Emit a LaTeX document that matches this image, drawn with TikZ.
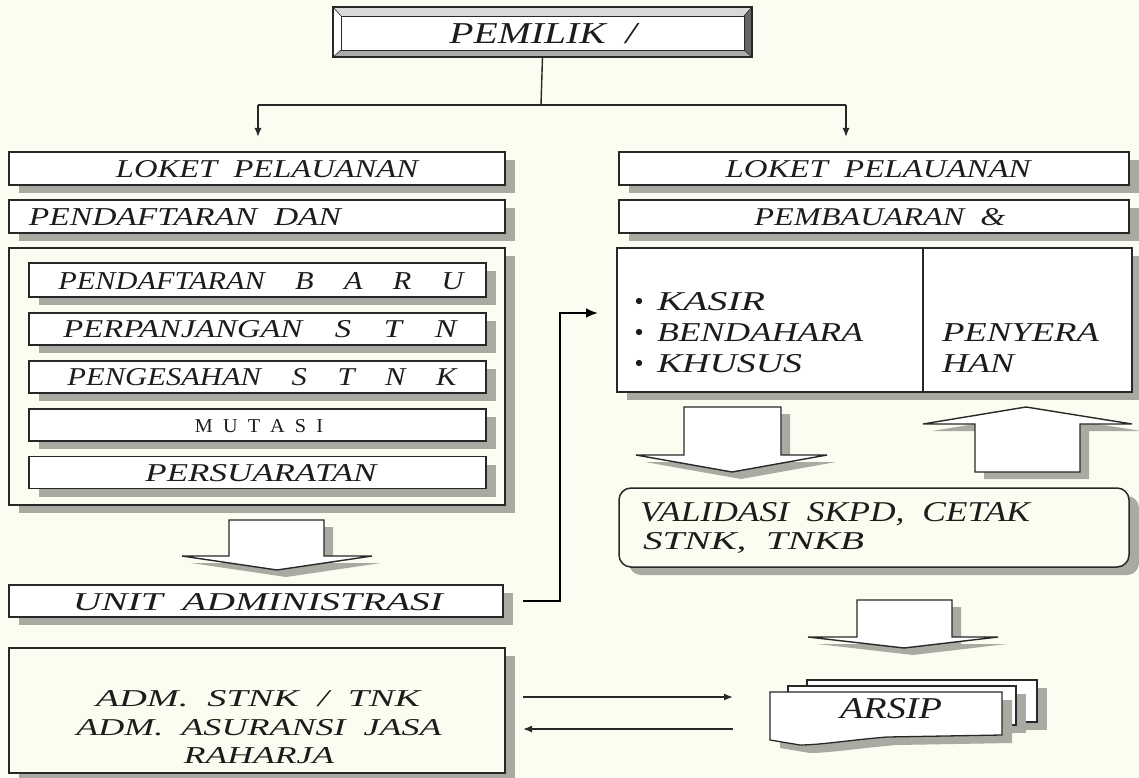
\documentclass[tikz,border=0pt]{standalone}
\usepackage{fontspec}
\setmainfont{Liberation Serif}
\usepackage{graphicx}
\usetikzlibrary{shadows,calc,arrows.meta}
\definecolor{bg}{RGB}{252,252,240}
\definecolor{shcol}{RGB}{170,170,162}
\definecolor{ink}{RGB}{28,28,28}
\definecolor{edge}{RGB}{40,40,40}
\newcommand{\fit}[3]{\resizebox{#1pt}{#2pt}{\itshape #3}}
\newcommand{\fitu}[3]{\resizebox{#1pt}{#2pt}{#3}}
\begin{document}
\begin{tikzpicture}[x=1pt,y=-1pt,
  every node/.style={inner sep=0pt, outer sep=0pt},
  box/.style={draw=edge, line width=1.5pt, fill=white,
    general shadow={fill=shcol, shadow xshift=10pt, shadow yshift=-8pt}},
  barrow/.style={draw=edge, line width=1.4pt, fill=white, line join=miter,
    general shadow={fill=shcol, shadow xshift=9pt, shadow yshift=-7pt}},
  sheet/.style={draw=edge, line width=1.3pt, fill=white,
    general shadow={fill=shcol, shadow xshift=10pt, shadow yshift=-8pt}},
  txt/.style={text=ink, text depth=0pt},
  conn/.style={draw=edge, line width=1.4pt, -{Latex[length=9pt,width=7pt]}},
  plain/.style={draw=edge, line width=1.4pt}]

\fill[bg] (0,0) rectangle (1139,778);
\useasboundingbox (0,0) rectangle (1139,778);

% ---------- PEMILIK box (bevelled frame) ----------
\node[draw=edge, line width=1.2pt, fill=gray!45, minimum width=419pt, minimum height=50pt] (pem) at (542.5,32) {};
\fill[gray!30] (333,7) -- (752,7) -- (744,16) -- (341,16) -- cycle;
\fill[white] (333,7) -- (341,16) -- (341,50) -- (333,57) -- cycle;
\fill[gray!65] (333,57) -- (341,50) -- (744,50) -- (752,57) -- cycle;
\fill[gray!80!black] (752,7) -- (744,16) -- (744,50) -- (752,57) -- cycle;
\draw[edge, line width=0.8pt, fill=white] (341,16) rectangle (744,50);
\draw[edge, line width=0.6pt] (333,7) -- (341,16) (752,7) -- (744,16) (333,57) -- (341,50) (752,57) -- (744,50);
\draw[edge, line width=1.2pt] (333,7) rectangle (752,57);
\node[txt] (tpem) at (543,34) {\fit{187}{20}{PEMILIK \ /}};

% ---------- top connectors ----------
\coordinate (jn) at (541,105);
\coordinate (jL) at (258,105);
\coordinate (jR) at (846,105);

% ---------- left column ----------
\node[box, minimum width=496pt, minimum height=33pt] (loketL) at (257,168.5) {};
\node[txt] (tloketL) at (267,168.5) {\fit{302}{17}{LOKET \ PELAUANAN}};
\node[box, minimum width=496pt, minimum height=33pt] (daftar) at (257,216.5) {};
\node[txt] (tdaftar) at (185,216.5) {\fit{312}{17}{PENDAFTARAN \ DAN}};

\node[box, fill=bg, minimum width=496pt, minimum height=257pt] (grp) at (257,376.5) {};
\node[box, minimum width=457pt, minimum height=34pt] (baru) at (257.5,280) {};
\node[txt] (tbaru) at (261,281) {\fit{405}{17}{PENDAFTARAN\quad B\quad A\quad R\quad U}};
\node[box, minimum width=457pt, minimum height=32pt] (panjang) at (257.5,329) {};
\node[txt] (tpanjang) at (260,329) {\fit{393}{17}{PERPANJANGAN\quad S\quad T\quad N}};
\node[box, minimum width=457pt, minimum height=32pt] (sah) at (257.5,377) {};
\node[txt] (tsah) at (262,377) {\fit{389}{17}{PENGESAHAN\quad S\quad T\quad N\quad K}};
\node[box, minimum width=457pt, minimum height=32pt] (mutasi) at (257.5,425) {};
\node[txt] (tmutasi) at (259,426) {\fitu{128}{13}{M\enspace U\enspace T\enspace A\enspace S\enspace I}};
\node[box, minimum width=457pt, minimum height=32pt] (syarat) at (257.5,472.5) {};
\node[txt] (tsyarat) at (261,473) {\fit{231}{17}{PERSUARATAN}};

\draw[barrow] (229,520) -- (324,520) -- (324,556) -- (372,556) -- (277,570) -- (182,556) -- (229,556) -- cycle;

\node[box, minimum width=494pt, minimum height=32pt] (unit) at (256,601) {};
\node[txt] (tunit) at (258,602) {\fit{370}{17}{UNIT \ ADMINISTRASI}};

\node[box, fill=bg, minimum width=496pt, minimum height=125pt] (adm) at (257,710.5) {};
\node[txt] (tadm1) at (258,698) {\fit{324}{16}{ADM. \ STNK \ / \ TNK}};
\node[txt] (tadm2) at (259,727) {\fit{365}{16}{ADM. \ ASURANSI \ JASA}};
\node[txt] (tadm3) at (259,755) {\fit{150}{16}{RAHARJA}};

% ---------- right column ----------
\node[box, minimum width=510pt, minimum height=33pt] (loketR) at (874,168.5) {};
\node[txt] (tloketR) at (878,168.5) {\fit{305}{17}{LOKET \ PELAUANAN}};
\node[box, minimum width=510pt, minimum height=33pt] (bayar) at (874,216.5) {};
\node[txt] (tbayar) at (880,216.5) {\fit{251}{17}{PEMBAUARAN \ \&}};

\node[box, minimum width=515pt, minimum height=144pt] (splitbox) at (874.5,320) {};
\node[minimum width=306pt, minimum height=144pt] (kas) at (770,320) {};
\node[minimum width=209pt, minimum height=144pt] (pen) at (1027.5,320) {};
\draw[plain] (kas.north east) -- (kas.south east);
\fill[ink] (639,301) circle (3.2pt) (639,332) circle (3.2pt) (639,363) circle (3.2pt);
\node[txt, anchor=west] (tkas) at (657,301) {\fit{108}{18}{KASIR}};
\node[txt, anchor=west] (tbend) at (657,332) {\fit{206}{18}{BENDAHARA}};
\node[txt, anchor=west] (tkhus) at (657,363) {\fit{145}{18}{KHUSUS}};
\node[txt, anchor=west] (tpen1) at (942,332) {\fit{157}{18}{PENYERA}};
\node[txt, anchor=west] (tpen2) at (942,363) {\fit{72}{18}{HAN}};

\draw[barrow] (684,407) -- (781,407) -- (781,455) -- (827,455) -- (732,472) -- (636,455) -- (684,455) -- cycle;
\draw[barrow] (975,472) -- (975,424) -- (923,424) -- (1026,407) -- (1132,424) -- (1080,424) -- (1080,472) -- cycle;

\node[box, fill=bg, rounded corners=12pt, minimum width=510pt, minimum height=79pt] (valid) at (874,527.5) {};
\node[txt, anchor=west] (tval1) at (640,512) {\fit{390}{19}{VALIDASI \ SKPD, \ CETAK}};
\node[txt, anchor=west] (tval2) at (643,541) {\fit{221}{17}{STNK, \ TNKB}};

\draw[barrow] (857,600) -- (952,600) -- (952,637) -- (998,637) -- (904,648) -- (808,637) -- (857,637) -- cycle;

% ARSIP stacked documents
\draw[sheet] (807,680) rectangle (1037,722);
\draw[sheet] (788,686) rectangle (1016,725);
\draw[sheet] (770,692) -- (1002,692) -- (1002,735) -- (887,737) .. controls (850,740) and (820,745) .. (800,745) -- (770,740) -- cycle;
\node[minimum width=232pt, minimum height=48pt] (arsip) at (886,716) {};
\node[txt] (tarsip) at (891,708) {\fit{102}{20}{ARSIP}};

% ---------- connectors ----------
\draw[plain] (pem.south) -- (jn);
\draw[plain] (jL) -- (jR);
\draw[conn, shorten >=15pt] (jL) -- (jL |- loketL.north);
\draw[conn, shorten >=15pt] (jR) -- (jR |- loketR.north);
\draw[draw=black, line width=2.8pt, -{Latex[length=12pt,width=10pt]}] ([xshift=20pt]unit.east) -- ++(37,0) |- ($(kas.west)+(-19,-7)$);
\draw[conn] ($(adm.east)+(18,-13.5)$) -- ($(arsip.west)+(-37,-19)$);
\draw[conn] ($(arsip.west)+(-37,13)$) -- ($(adm.east)+(18,18.5)$);
\end{tikzpicture}
\end{document}
